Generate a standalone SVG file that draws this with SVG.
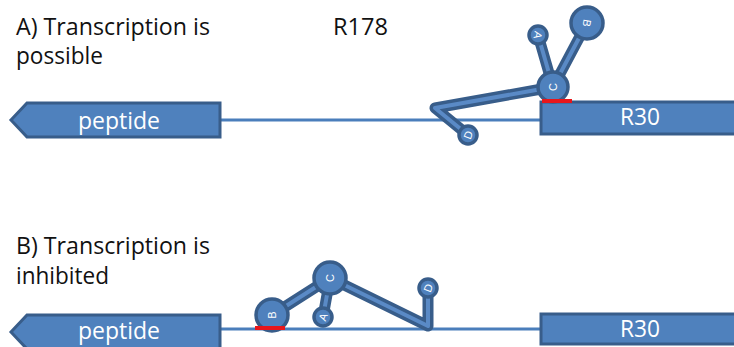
<svg xmlns="http://www.w3.org/2000/svg" width="734" height="347" viewBox="0 0 734 347">
  <style>
    .label { font-family: "Open Sans", "Liberation Sans", sans-serif; font-size: 23px; fill: #111; }
    .boxtxt { font-family: "Open Sans", "Liberation Sans", sans-serif; font-size: 23px; fill: #fff; text-anchor: middle; }
    .shape { fill: #4f81bd; stroke: #385d8a; stroke-width: 3; }
    .strand { stroke: #4a7ebb; stroke-width: 3; fill: none; }
    .rod-out { stroke: #385d8a; stroke-width: 11; stroke-linecap: round; stroke-linejoin: round; fill: none; }
    .rod-in { stroke: #5a8ac6; stroke-width: 4; stroke-linecap: round; stroke-linejoin: round; fill: none; }
    .ball { fill: #4f81bd; stroke: #385d8a; stroke-width: 3.5; }
    .let { font-family: "Liberation Sans", Arial, sans-serif; font-size: 11px; fill: #fff; text-anchor: middle; dominant-baseline: central; }
    .site { stroke: #e8161b; stroke-width: 4; }
  </style>

  <!-- captions -->
  <g id="captions">
    <text class="label" x="16" y="35" textLength="194" lengthAdjust="spacingAndGlyphs">A) Transcription is</text>
    <text class="label" x="16" y="64" textLength="87" lengthAdjust="spacingAndGlyphs">possible</text>
    <text class="label" x="333" y="35" textLength="55" lengthAdjust="spacingAndGlyphs">R178</text>
    <text class="label" x="16" y="254" textLength="194" lengthAdjust="spacingAndGlyphs">B) Transcription is</text>
    <text class="label" x="16" y="284" textLength="93" lengthAdjust="spacingAndGlyphs">inhibited</text>
  </g>

  <!-- strands between the peptide and R30 -->
  <g id="connectors">
    <line class="strand" x1="220" y1="120" x2="542" y2="120"/>
    <line class="strand" x1="220" y1="329" x2="542" y2="329"/>
  </g>

  <!-- panel A -->
  <g id="peptide-a">
    <path class="shape" d="M220,103 L27,103 L11,120 L27,137 L220,137 Z"/>
    <text class="boxtxt" x="119" y="129" textLength="82" lengthAdjust="spacingAndGlyphs">peptide</text>
  </g>
  <g id="r30-a">
    <rect class="shape" x="541" y="102" width="200" height="32"/>
    <text class="boxtxt" x="640" y="125" textLength="40" lengthAdjust="spacingAndGlyphs">R30</text>
  </g>
  <g id="riboswitch-a">
    <polyline class="rod-out" points="553,87 435,108 468,135"/>
    <polyline class="rod-in" points="553,87 435,108 468,135"/>
    <line class="rod-out" x1="553" y1="87" x2="587" y2="23"/>
    <line class="rod-in" x1="553" y1="87" x2="587" y2="23"/>
    <line class="rod-out" x1="553" y1="87" x2="538" y2="35"/>
    <line class="rod-in" x1="553" y1="87" x2="538" y2="35"/>
    <circle class="ball" cx="587" cy="23" r="16"/>
    <circle class="ball" cx="538" cy="35" r="9"/>
    <circle class="ball" cx="553" cy="87" r="15"/>
    <circle class="ball" cx="468" cy="135" r="9"/>
    <text class="let" transform="translate(587,23) rotate(100)">B</text>
    <text class="let" transform="translate(538,35) rotate(100)">A</text>
    <text class="let" transform="translate(553,87) rotate(-90)">C</text>
    <text class="let" transform="translate(468,135) rotate(-70)">D</text>
    <line class="site" x1="542" y1="101" x2="572" y2="101"/>
  </g>

  <!-- panel B -->
  <g id="peptide-b">
    <path class="shape" d="M220,315 L27,315 L11,332 L27,349 L220,349 Z"/>
    <text class="boxtxt" x="119" y="339" textLength="82" lengthAdjust="spacingAndGlyphs">peptide</text>
  </g>
  <g id="r30-b">
    <rect class="shape" x="541" y="314" width="200" height="30"/>
    <text class="boxtxt" x="640" y="337" textLength="40" lengthAdjust="spacingAndGlyphs">R30</text>
  </g>
  <g id="riboswitch-b">
    <line class="rod-out" x1="272" y1="315" x2="330" y2="278"/>
    <line class="rod-in" x1="272" y1="315" x2="330" y2="278"/>
    <line class="rod-out" x1="330" y1="278" x2="323" y2="317"/>
    <line class="rod-in" x1="330" y1="278" x2="323" y2="317"/>
    <polyline class="rod-out" points="330,278 428,326 428,288"/>
    <polyline class="rod-in" points="330,278 428,326 428,288"/>
    <circle class="ball" cx="272" cy="315" r="16"/>
    <circle class="ball" cx="330" cy="278" r="16"/>
    <circle class="ball" cx="323" cy="317" r="9"/>
    <circle class="ball" cx="428" cy="288" r="9"/>
    <text class="let" transform="translate(272,315) rotate(-90)">B</text>
    <text class="let" transform="translate(330,278) rotate(-90)">C</text>
    <text class="let" transform="translate(323,317) rotate(-70)">A</text>
    <text class="let" transform="translate(428,288) rotate(-70)">D</text>
    <line class="site" x1="255" y1="328" x2="285" y2="328"/>
  </g>
</svg>
